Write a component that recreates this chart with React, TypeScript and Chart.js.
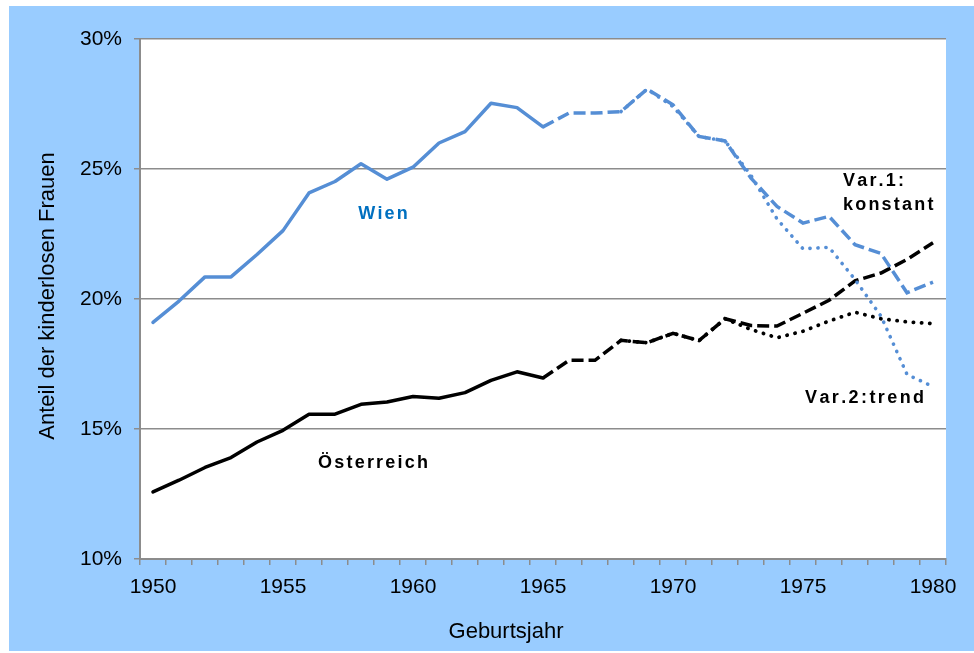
import React, { useEffect, useRef } from 'react';
import { Chart, registerables } from 'chart.js';

Chart.register(...registerables);

const years = [
  '1950', '1951', '1952', '1953', '1954', '1955', '1956', '1957', '1958', '1959',
  '1960', '1961', '1962', '1963', '1964', '1965', '1966', '1967', '1968', '1969',
  '1970', '1971', '1972', '1973', '1974', '1975', '1976', '1977', '1978', '1979', '1980',
];
const shownYearLabels = ['1950', '1955', '1960', '1965', '1970', '1975', '1980'];
const yTicks = [10, 15, 20, 25, 30];

// Observed 1950-1965
const wienObserved = [19.1, 19.92, 20.85, 20.85, 21.71, 22.63, 24.08, 24.52, 25.2, 24.61, 25.07, 26.0, 26.44, 27.53, 27.36, 26.62];
const oesterreichObserved = [12.58, 13.03, 13.52, 13.9, 14.5, 14.95, 15.57, 15.57, 15.95, 16.04, 16.25, 16.18, 16.4, 16.87, 17.2, 16.96];

// Var.1 konstant, 1965-1980
const wienVar1 = [26.62, 27.15, 27.15, 27.21, 28.07, 27.47, 26.25, 26.08, 24.65, 23.56, 22.92, 23.18, 22.09, 21.75, 20.24, 20.65];
const oesterreichVar1 = [16.96, 17.64, 17.64, 18.41, 18.32, 18.68, 18.4, 19.24, 18.98, 18.96, 19.45, 19.95, 20.7, 21.0, 21.52, 22.16];

// Var.2 trend, 1968-1980
const wienVar2 = [27.21, 28.07, 27.4, 26.25, 26.08, 24.75, 23.08, 21.93, 21.99, 20.75, 19.34, 17.1, 16.63];
const oesterreichVar2 = [18.41, 18.32, 18.68, 18.4, 19.24, 18.83, 18.51, 18.76, 19.15, 19.49, 19.24, 19.12, 19.05];

const BLUE = '#558ED5';
const LABEL_BLUE = '#0070C0';
const GRID = '#8C8C8C';
const FONT = '"Liberation Sans", Arial, sans-serif';

function placeFrom(startYear: string, values: number[]): (number | null)[] {
  const start = years.indexOf(startYear);
  return years.map((_, i) => (i >= start && i - start < values.length ? values[i - start] : null));
}

function drawSpaced(ctx: CanvasRenderingContext2D, text: string, x: number, y: number, spacing: number, align: 'left' | 'center') {
  const chars = Array.from(text);
  const widths = chars.map((c) => ctx.measureText(c).width);
  const total = widths.reduce((a, b) => a + b, 0) + spacing * (chars.length - 1);
  let cx = align === 'center' ? x - total / 2 : x;
  ctx.textAlign = 'left';
  chars.forEach((c, i) => {
    ctx.fillText(c, cx, y);
    cx += widths[i] + spacing;
  });
}

const annotationPlugin = {
  id: 'annotations',
  beforeDraw(chart: any) {
    const { ctx, chartArea } = chart;
    ctx.save();
    ctx.fillStyle = '#ffffff';
    ctx.fillRect(chartArea.left, chartArea.top, chartArea.right - chartArea.left, chartArea.bottom - chartArea.top);
    ctx.restore();
  },
  afterDraw(chart: any) {
    const { ctx } = chart;
    ctx.save();
    ctx.textBaseline = 'middle';

    ctx.font = `bold 18px ${FONT}`;
    ctx.fillStyle = LABEL_BLUE;
    drawSpaced(ctx, 'Wien', 383, 214, 2.2, 'center');

    ctx.fillStyle = '#000000';
    drawSpaced(ctx, 'Österreich', 373, 463, 2.2, 'center');
    drawSpaced(ctx, 'Var.1:', 843, 181, 2.2, 'left');
    drawSpaced(ctx, 'konstant', 843, 205, 2.2, 'left');
    drawSpaced(ctx, 'Var.2:trend', 805, 398, 2.4, 'left');

    // axis titles
    ctx.font = `22px ${FONT}`;
    ctx.textAlign = 'center';
    ctx.fillText('Geburtsjahr', 506, 632);
    ctx.translate(48, 296);
    ctx.rotate(-Math.PI / 2);
    ctx.fillText('Anteil der kinderlosen Frauen', 0, 0);
    ctx.restore();
  },
};

export default function App() {
  const canvasRef = useRef<HTMLCanvasElement | null>(null);

  useEffect(() => {
    document.body.style.margin = '0';
    const canvas = canvasRef.current;
    if (!canvas) return;

    const lineBase = { pointRadius: 0, pointHoverRadius: 0, tension: 0, spanGaps: false, fill: false };

    const chart = new Chart(canvas, {
      type: 'line',
      data: {
        labels: years,
        datasets: [
          { ...lineBase, label: 'Wien Var.2', data: placeFrom('1968', wienVar2), borderColor: BLUE, borderWidth: 3.6, borderDash: [0.2, 7.8], borderCapStyle: 'round' },
          { ...lineBase, label: 'Österreich Var.2', data: placeFrom('1968', oesterreichVar2), borderColor: '#000000', borderWidth: 3.8, borderDash: [0.2, 8], borderCapStyle: 'round' },
          { ...lineBase, label: 'Wien Var.1', data: placeFrom('1965', wienVar1), borderColor: BLUE, borderWidth: 3.5, borderDash: [12, 5], borderCapStyle: 'butt' },
          { ...lineBase, label: 'Österreich Var.1', data: placeFrom('1965', oesterreichVar1), borderColor: '#000000', borderWidth: 3.5, borderDash: [12, 5], borderCapStyle: 'butt' },
          { ...lineBase, label: 'Wien', data: placeFrom('1950', wienObserved), borderColor: BLUE, borderWidth: 3.5, borderCapStyle: 'round', borderJoinStyle: 'round' },
          { ...lineBase, label: 'Österreich', data: placeFrom('1950', oesterreichObserved), borderColor: '#000000', borderWidth: 3.5, borderCapStyle: 'round', borderJoinStyle: 'round' },
        ],
      },
      options: {
        responsive: false,
        maintainAspectRatio: false,
        animation: false,
        devicePixelRatio: 1,
        layout: { padding: { top: 39, right: 28, left: 0, bottom: 0 } },
        plugins: {
          legend: { display: false },
          title: { display: false },
          tooltip: { enabled: false },
        },
        scales: {
          x: {
            type: 'category',
            offset: true,
            grid: {
              offset: true,
              drawOnChartArea: false,
              drawTicks: true,
              tickLength: 6,
              color: GRID,
              lineWidth: 1.5,
            },
            border: { display: true, color: GRID, width: 2 },
            ticks: {
              autoSkip: false,
              maxRotation: 0,
              minRotation: 0,
              padding: 10,
              color: '#000000',
              font: { family: FONT, size: 21 },
              callback: (_v: any, i: number) => (shownYearLabels.includes(years[i]) ? years[i] : ''),
            },
            afterFit: (scale: any) => {
              scale.height = 94;
            },
          },
          y: {
            type: 'linear',
            min: yTicks[0],
            max: yTicks[yTicks.length - 1],
            afterBuildTicks: (scale: any) => {
              scale.ticks = yTicks.map((v) => ({ value: v }));
            },
            grid: {
              color: GRID,
              lineWidth: 1.5,
              drawTicks: true,
              tickLength: 6,
            },
            border: { display: true, color: GRID, width: 2 },
            ticks: {
              padding: 12,
              color: '#000000',
              font: { family: FONT, size: 21 },
              callback: (v: any) => `${v}%`,
            },
            afterFit: (scale: any) => {
              scale.width = 140;
            },
          },
        },
      },
      plugins: [annotationPlugin],
    } as any);

    return () => chart.destroy();
  }, []);

  return (
    <div style={{ position: 'relative', width: 974, height: 653, background: '#ffffff', overflow: 'hidden' }}>
      <div style={{ position: 'absolute', left: 9, top: 6, width: 965, height: 645, background: '#99CCFF' }} />
      <canvas
        ref={canvasRef}
        width={974}
        height={653}
        style={{ position: 'absolute', left: 0, top: 0, width: 974, height: 653 }}
      />
    </div>
  );
}
